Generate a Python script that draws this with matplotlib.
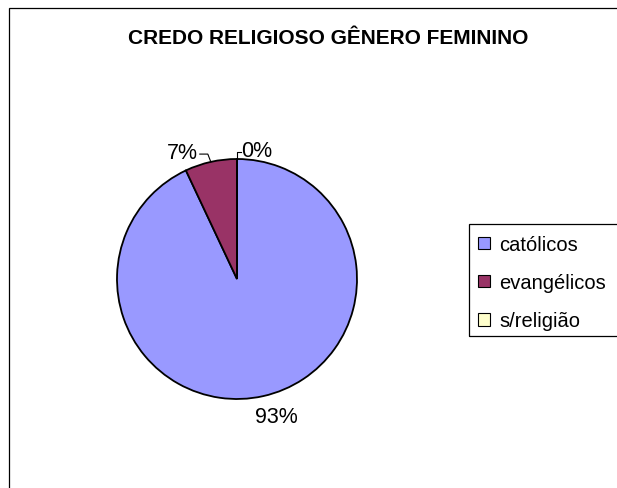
import matplotlib
matplotlib.use('Agg')
import matplotlib.pyplot as plt
import numpy as np
from matplotlib.patches import Rectangle, Patch

categories = ['católicos', 'evangélicos', 's/religião']
values = [93, 7, 0]
pct_labels = ['93%', '7%', '0%']
colors = ['#9999FF', '#993366', '#FFFFCC']
title = 'CREDO RELIGIOSO GÊNERO FEMININO'

plt.rcParams['font.family'] = ['Liberation Sans', 'DejaVu Sans']
W, H = 617, 489
fig = plt.figure(figsize=(W / 100, H / 100), dpi=100)
fig.patch.set_facecolor('white')

# outer chart border (extends past right/bottom edges)
fig.patches.append(Rectangle((9 / W, -0.1), 1.2, (1 - 9 / H) + 0.1,
                             transform=fig.transFigure, fill=False,
                             edgecolor='black', linewidth=0.9))

fig.text(328 / W, 1 - 38 / H, title, ha='center', va='center',
         fontsize=15, fontweight='bold')

ax = fig.add_axes([117 / W, (H - 400) / H, 240 / W, 240 / H])

wedges, _ = ax.pie(values, colors=colors, startangle=90, counterclock=False,
                   radius=1, wedgeprops=dict(edgecolor='black', linewidth=1.3))
ax.set_xlim(-1, 1)
ax.set_ylim(-1, 1)
ax.set_aspect('equal')
ax.axis('off')

fs = 15.5
for w, lab in zip(wedges, pct_labels):
    mid = np.deg2rad((w.theta1 + w.theta2) / 2)
    ax_, ay_ = np.cos(mid), np.sin(mid)
    if lab == '93%':
        ax.text(1.19 * np.cos(mid + 0.06), 1.19 * np.sin(mid + 0.06), lab,
                ha='center', va='center', fontsize=fs)
    elif ax_ < -0.01:
        ex, ey = ax_ - 0.025, ay_ + 0.065
        hx = ex - 0.067
        ax.plot([ax_, ex, hx], [ay_, ey, ey], color='black', lw=0.8,
                clip_on=False)
        ax.text(hx - 0.02, ey + 0.01, lab, ha='right', va='center', fontsize=fs)
    else:
        ey = ay_ + 0.06
        hx = ax_ + 0.033
        ax.plot([ax_, ax_, hx], [ay_, ey, ey], color='black', lw=0.8,
                clip_on=False)
        ax.text(hx + 0.005, ey + 0.01, lab, ha='left', va='center', fontsize=fs)

# legend frame (extends beyond right edge)
fig.patches.append(Rectangle((469 / W, 1 - 337 / H), 1.0, 112 / H,
                             transform=fig.transFigure, fill=False,
                             edgecolor='black', linewidth=0.9))
handles = [Patch(facecolor=c, edgecolor='black', linewidth=0.8) for c in colors]
fig.legend(handles, categories, loc='upper left',
           bbox_to_anchor=(470 / W, 1 - 228 / H), frameon=False,
           fontsize=14.5, handlelength=0.6, handleheight=0.6,
           handletextpad=0.45, labelspacing=0.95, borderaxespad=0)

fig.savefig('out.png', dpi=100, facecolor='white')
